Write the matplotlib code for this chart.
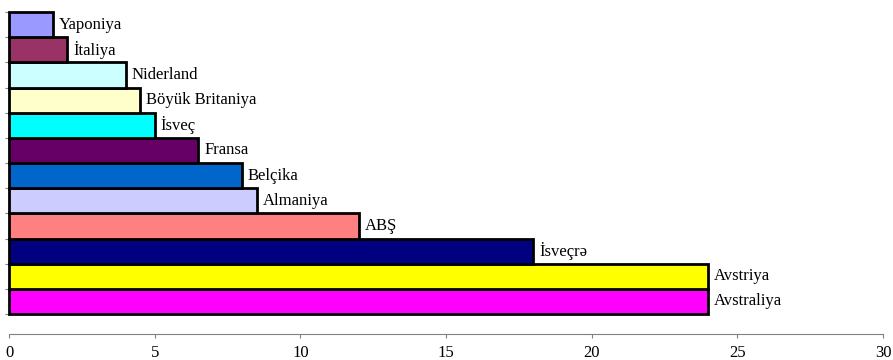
import matplotlib
matplotlib.use("Agg")
import matplotlib.pyplot as plt
import numpy as np

# bottom to top
countries = ["Avstraliya", "Avstriya", "İsveçrə", "ABŞ", "Almaniya", "Belçika",
             "Fransa", "İsveç", "Böyük Britaniya", "Niderland", "İtaliya", "Yaponiya"]
values = [24, 24, 18, 12, 8.5, 8, 6.5, 5, 4.5, 4, 2, 1.5]
colors = ["#FF00FF", "#FFFF00", "#000080", "#FF8080", "#CCCCFF", "#0066CC",
          "#660066", "#00FFFF", "#FFFFCC", "#CCFFFF", "#993366", "#9999FF"]
xticks = [0, 5, 10, 15, 20, 25, 30]

plt.rcParams["font.family"] = ["Liberation Serif", "DejaVu Serif"]

fig = plt.figure(figsize=(8.93, 3.6), dpi=100)
ax = fig.add_axes([9 / 893, 1 - 314 / 360, 874 / 893, 302 / 360])

y = np.arange(len(countries))
bars = ax.barh(y, values, height=1.0, color=colors, edgecolor="black", linewidth=2, zorder=3)
for b in bars:
    b.set_clip_on(False)

for yi, v, name in zip(y, values, countries):
    ax.text(v + 0.2, yi, name, va="center", ha="left", fontsize=12)

ax.set_xlim(0, 30)
ax.set_ylim(-0.5, len(countries) - 0.5)

for s in ["top", "right"]:
    ax.spines[s].set_visible(False)
ax.spines["left"].set_color("#808080")
ax.spines["bottom"].set_color("#808080")
ax.spines["bottom"].set_position(("outward", 14.4))

ax.set_xticks(xticks)
ax.set_xticklabels([str(t) for t in xticks], fontsize=12)
ax.set_yticks(np.arange(-0.5, len(countries)))
ax.set_yticklabels([])
ax.tick_params(axis="both", direction="out", length=3, color="#808080")
ax.tick_params(axis="x", pad=5)

fig.savefig("out.png", dpi=100)
